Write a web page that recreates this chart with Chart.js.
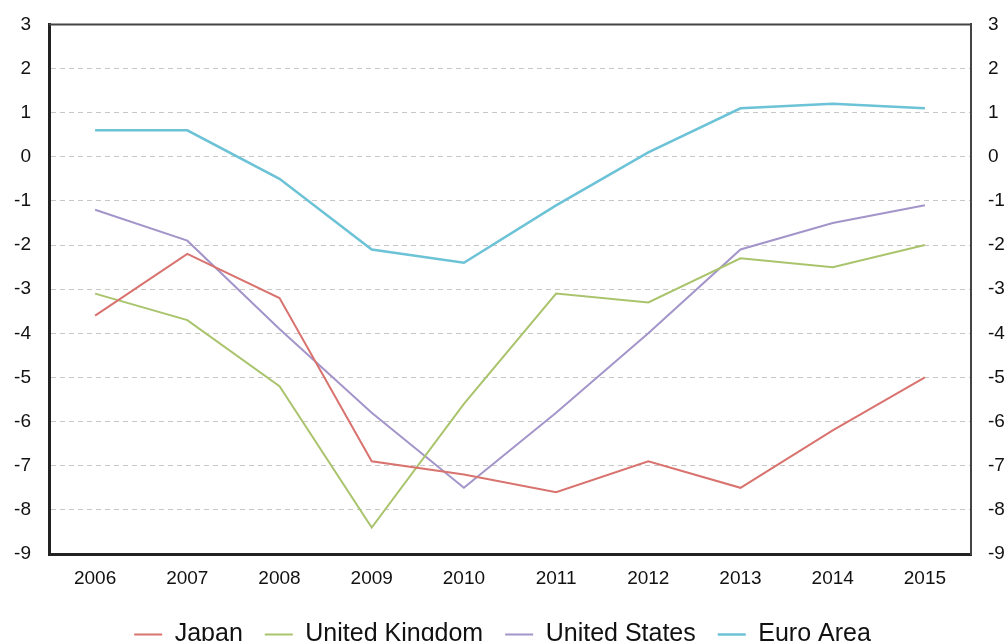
<!DOCTYPE html>
<html>
<head>
<meta charset="utf-8">
<script src="https://cdn.jsdelivr.net/npm/chart.js@4"></script>
<style>
  html, body { margin: 0; padding: 0; background: #fff; overflow: hidden; }
  #wrap { width: 1005px; height: 662px; margin-top: -5px; position: relative; }
</style>
</head>
<body>
<div id="wrap"><canvas id="myGraph"></canvas></div>
<script>
const years = ["2006", "2007", "2008", "2009", "2010", "2011", "2012", "2013", "2014", "2015"];
const japan = [-3.6, -2.2, -3.2, -6.9, -7.2, -7.6, -6.9, -7.5, -6.2, -5.0];
const unitedKingdom = [-3.1, -3.7, -5.2, -8.4, -5.6, -3.1, -3.3, -2.3, -2.5, -2.0];
const unitedStates = [-1.2, -1.9, -3.9, -5.8, -7.5, -5.8, -4.0, -2.1, -1.5, -1.1];
const euroArea = [0.6, 0.6, -0.5, -2.1, -2.4, -1.1, 0.1, 1.1, 1.2, 1.1];
const yMin = -9;
const yMax = 3;

const tickFont = { family: "Liberation Sans, Arial", size: 19 };

function line(label, data, color, width) {
  return {
    label: label,
    data: data,
    borderColor: color,
    backgroundColor: color,
    borderWidth: width,
    pointRadius: 0,
    tension: 0,
    yAxisID: "y",
  };
}

// top edge of the plot frame
const topFrame = {
  id: "topFrame",
  afterDraw(chart) {
    const a = chart.chartArea;
    const ctx = chart.ctx;
    ctx.save();
    ctx.strokeStyle = "#444";
    ctx.lineWidth = 2;
    ctx.beginPath();
    ctx.moveTo(a.left, a.top);
    ctx.lineTo(a.right + 1, a.top);
    ctx.stroke();
    ctx.restore();
  },
};

new Chart(document.getElementById("myGraph"), {
  type: "line",
  data: {
    labels: years,
    datasets: [
      line("Japan", japan, "#d9736f", 2),
      line("United Kingdom", unitedKingdom, "#a9c46c", 2),
      line("United States", unitedStates, "#a395c9", 2),
      line("Euro Area", euroArea, "#6cc2d6", 2.5),
    ],
  },
  plugins: [topFrame],
  options: {
    responsive: true,
    maintainAspectRatio: false,
    animation: false,
    layout: { padding: { top: 24, left: 0, right: 0, bottom: 0 } },
    plugins: {
      tooltip: { enabled: false },
      legend: {
        position: "bottom",
        labels: {
          color: "#111",
          font: { family: "Liberation Sans, Arial", size: 25 },
          usePointStyle: true,
          pointStyle: "line",
          pointStyleWidth: 28,
          padding: 22,
        },
      },
    },
    scales: {
      x: {
        position: "bottom",
        offset: true,
        grid: { display: false, drawTicks: false },
        border: { display: true, color: "#222", width: 3 },
        ticks: { color: "#111", font: tickFont, padding: 13, maxRotation: 0 },
        afterFit: (s) => { s.height = 46; },
      },
      y: {
        position: "left",
        min: yMin,
        max: yMax,
        ticks: { stepSize: 1, color: "#111", font: tickFont, padding: 18 },
        grid: { color: "#c8c8c8", lineWidth: 1, drawTicks: false },
        border: { display: true, color: "#222", width: 3, dash: [5, 4] },
        afterFit: (s) => { s.width = 49; },
      },
      yRight: {
        position: "right",
        min: yMin,
        max: yMax,
        ticks: { stepSize: 1, color: "#111", font: tickFont, padding: 17 },
        grid: { display: false, drawTicks: false },
        border: { display: true, color: "#444", width: 2 },
        afterFit: (s) => { s.width = 34; },
      },
    },
  },
});
</script>
</body>
</html>
